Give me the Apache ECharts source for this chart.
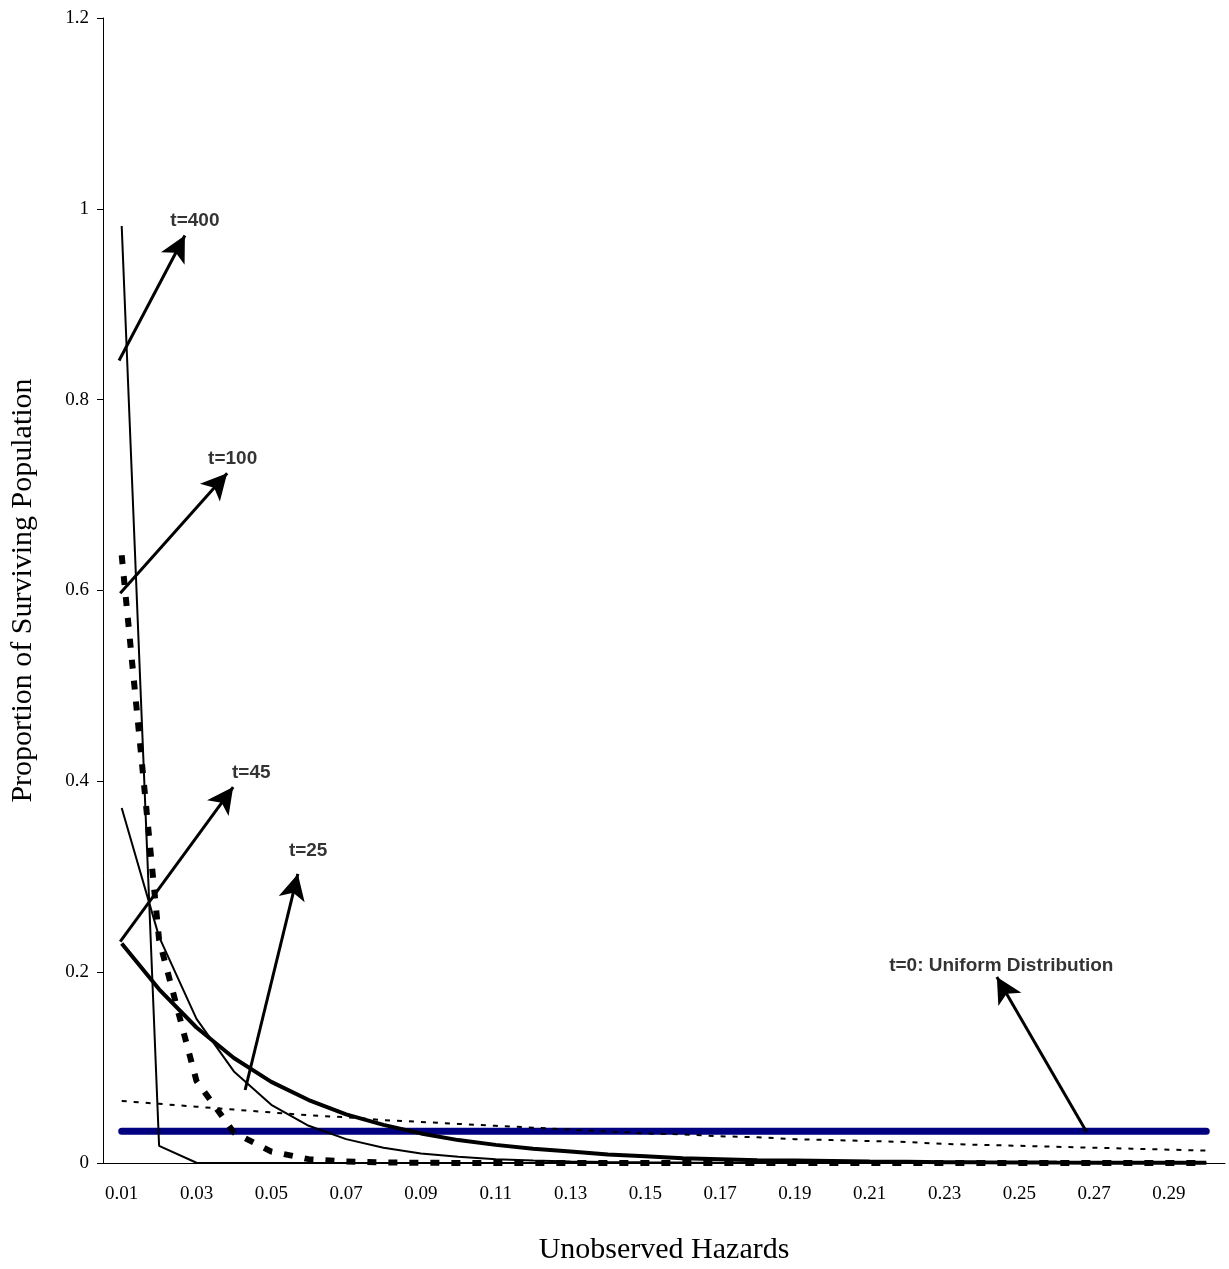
<!DOCTYPE html>
<html><head><meta charset="utf-8">
<script src="https://cdn.jsdelivr.net/npm/echarts@6/dist/echarts.min.js"></script>
<style>html,body{margin:0;padding:0;background:#fff}#c{width:1229px;height:1269px}</style>
</head><body><div id="c"></div>
<script>
const categories = ['0.01','0.02','0.03','0.04','0.05','0.06','0.07','0.08','0.09','0.1','0.11','0.12','0.13','0.14','0.15','0.16','0.17','0.18','0.19','0.2','0.21','0.22','0.23','0.24','0.25','0.26','0.27','0.28','0.29','0.3'];
const catLabels = ['0.01','0.02','0.03','0.04','0.05','0.06','0.07','0.08','0.09','0.10','0.11','0.12','0.13','0.14','0.15','0.16','0.17','0.18','0.19','0.20','0.21','0.22','0.23','0.24','0.25','0.26','0.27','0.28','0.29','0.30'];
const t0 = [0.0333,0.0333,0.0333,0.0333,0.0333,0.0333,0.0333,0.0333,0.0333,0.0333,0.0333,0.0333,0.0333,0.0333,0.0333,0.0333,0.0333,0.0333,0.0333,0.0333,0.0333,0.0333,0.0333,0.0333,0.0333,0.0333,0.0333,0.0333,0.0333,0.0333];
const t5 = [0.065,0.062,0.059,0.056,0.053,0.050,0.048,0.045,0.043,0.041,0.039,0.037,0.035,0.033,0.031,0.030,0.028,0.027,0.025,0.024,0.023,0.022,0.020,0.019,0.018,0.017,0.016,0.015,0.014,0.013];
const t25 = [0.230,0.182,0.142,0.110,0.085,0.066,0.051,0.040,0.031,0.024,0.019,0.015,0.012,0.009,0.007,0.005,0.004,0.003,0.0025,0.002,0.0015,0.0012,0.0009,0.0007,0.0006,0.0004,0.0003,0.0003,0.0002,0.0002];
const t45 = [0.372,0.237,0.151,0.096,0.061,0.039,0.025,0.016,0.010,0.0065,0.004,0.0027,0.0017,0.0011,0.0007,0.0004,0.0003,0.0002,0.0001,0.0001,0,0,0,0,0,0,0,0,0,0];
const t100 = [0.637,0.234,0.086,0.032,0.012,0.004,0.0016,0.0006,0.0002,0.0001,0,0,0,0,0,0,0,0,0,0,0,0,0,0,0,0,0,0,0,0];
const t400 = [0.982,0.018,0.0003,0,0,0,0,0,0,0,0,0,0,0,0,0,0,0,0,0,0,0,0,0,0,0,0,0,0,0];
// annotation arrows: [fromX, fromY, toX, toY] in hazard/proportion units
const arrows = [
  [0.0093,0.841,0.0269,0.972],
  [0.0096,0.597,0.0382,0.723],
  [0.0096,0.232,0.0398,0.394],
  [0.0430,0.0765,0.0571,0.303],
  [0.268,0.0325,0.244,0.195]
];
const annText = ['t=400','t=100','t=45','t=25','t=5','t=0: Uniform Distribution'];
const annPos = [[0.0230,0.987],[0.0331,0.738],[0.0395,0.409],[0.0547,0.327],[0.0037,0.061],[0.2152,0.2065]];

const chart = echarts.init(document.getElementById('c'));
const lineBase = {type:'line', symbol:'none', silent:true, xAxisIndex:0, yAxisIndex:0};
chart.setOption({
  animation:false,
  grid:{left:103,right:4,top:18,bottom:106,containLabel:false,outerBoundsMode:'none'},
  xAxis:[{
    type:'category', data:categories, boundaryGap:true,
    name:'Unobserved Hazards', nameLocation:'middle', nameGap:72,
    nameTextStyle:{fontFamily:'Liberation Serif',fontSize:30,color:'#000'},
    axisLine:{lineStyle:{color:'#000',width:1}},
    axisTick:{interval:0,length:10,lineStyle:{color:'#000'}},
    axisLabel:{interval:1,margin:22,fontFamily:'Liberation Serif',fontSize:19,color:'#000',
      formatter:(v,i)=>catLabels[i]},
    splitLine:{show:false}
  },{
    type:'value', min:0.005, max:0.305, show:false
  }],
  yAxis:{
    type:'value', min:0, max:1.2, interval:0.2,
    name:'Proportion of Surviving Population', nameLocation:'middle', nameGap:65,
    nameTextStyle:{fontFamily:'Liberation Serif',fontSize:30,color:'#000'},
    axisLine:{show:true,lineStyle:{color:'#000',width:1}},
    axisTick:{show:true,length:6,lineStyle:{color:'#000'}},
    axisLabel:{margin:14,fontFamily:'Liberation Serif',fontSize:19,color:'#000',
      formatter:v=>String(Math.round(v*10)/10)},
    splitLine:{show:false}
  },
  series:[
    Object.assign({},lineBase,{name:'t=0',data:t0,z:3,lineStyle:{color:'#000080',width:7,cap:'round'}}),
    Object.assign({},lineBase,{name:'t=5',data:t5,lineStyle:{color:'#000',width:2,type:[5,7]}}),
    Object.assign({},lineBase,{name:'t=25',data:t25,lineStyle:{color:'#000',width:4}}),
    Object.assign({},lineBase,{name:'t=45',data:t45,lineStyle:{color:'#000',width:2}}),
    Object.assign({},lineBase,{name:'t=100',data:t100,lineStyle:{color:'#000',width:6,type:[9,12]}}),
    Object.assign({},lineBase,{name:'t=400',data:t400,lineStyle:{color:'#000',width:2}}),
    {type:'scatter', xAxisIndex:1, yAxisIndex:0, silent:true, symbolSize:1, z:5,
     itemStyle:{color:'rgba(0,0,0,0)'},
     data:annPos.map((p,i)=>({value:p,name:annText[i]})),
     label:{show:true,position:'inside',align:'left',verticalAlign:'middle',formatter:p=>p.name,
       fontFamily:'Liberation Sans',fontWeight:'bold',fontSize:19,color:'#000',textBorderWidth:0},
     markLine:{silent:true,symbol:['none','arrow'],symbolSize:[20,26],
       lineStyle:{color:'#000',width:3,type:'solid'},label:{show:false},
       data:arrows.map(a=>[{coord:[a[0],a[1]]},{coord:[a[2],a[3]]}])}
    }
  ]
});
</script></body></html>
